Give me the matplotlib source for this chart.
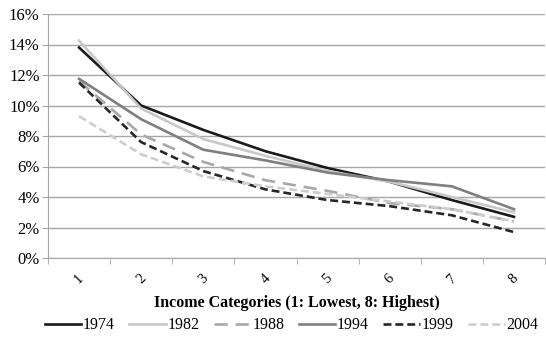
import matplotlib
matplotlib.use('Agg')
import matplotlib.pyplot as plt
from matplotlib.ticker import FuncFormatter, FixedLocator

plt.rcParams['font.family'] = ['Liberation Serif', 'DejaVu Serif']

categories = ['1', '2', '3', '4', '5', '6', '7', '8']
years = ['1974', '1982', '1988', '1994', '1999', '2004']
share_1974 = [13.8, 10.0, 8.4, 7.0, 5.9, 5.0, 3.8, 2.7]
share_1982 = [14.25, 9.8, 7.8, 6.7, 5.7, 5.0, 4.0, 3.0]
share_1988 = [11.6, 8.1, 6.3, 5.1, 4.4, 3.6, 3.2, 2.4]
share_1994 = [11.75, 9.1, 7.1, 6.4, 5.6, 5.1, 4.7, 3.2]
share_1999 = [11.5, 7.6, 5.7, 4.5, 3.8, 3.4, 2.8, 1.7]
share_2004 = [9.3, 6.8, 5.35, 4.7, 4.2, 3.7, 3.2, 2.4]

series = [share_1974, share_1982, share_1988, share_1994, share_1999, share_2004]
colors = ['#1a1a1a', '#c8c8c8', '#a8a8a8', '#7f7f7f', '#262626', '#cdcdcd']
styles = ['-', '-', (0, (5, 3)), '-', (0, (3, 1.5)), (0, (3, 1.5))]

fig = plt.figure(figsize=(5.46, 3.39), dpi=100)
ax = fig.add_axes([48 / 546, 81 / 339, 497 / 546, 244 / 339])

x = list(range(1, len(categories) + 1))
for year, vals, c, ls in zip(years, series, colors, styles):
    ax.plot(x, vals, color=c, linestyle=ls, linewidth=1.9, label=year)

ax.set_xlim(0.5, 8.5)
ax.set_ylim(0, 16)
ax.set_yticks(range(0, 17, 2))
ax.yaxis.set_major_formatter(FuncFormatter(lambda v, p: '%d%%' % v))
ax.grid(axis='y', color='#a6a6a6', linewidth=1.0)
ax.set_axisbelow(True)

ax.set_xticks(x)
ax.set_xticklabels(categories, rotation=45, fontsize=10.5)
ax.xaxis.set_minor_locator(FixedLocator([i + 0.5 for i in range(0, 9)]))
ax.tick_params(axis='x', which='major', length=0, pad=10)
ax.tick_params(axis='x', which='minor', length=4, color='#a6a6a6')
ax.tick_params(axis='y', length=4, color='#a6a6a6', labelsize=12, pad=2)

for s in ['top', 'right']:
    ax.spines[s].set_visible(False)
for s in ['left', 'bottom']:
    ax.spines[s].set_color('#a6a6a6')

ax.set_xlabel('Income Categories (1: Lowest, 8: Highest)', fontsize=11.5,
              fontweight='bold', labelpad=6)

ax.legend(loc='center', bbox_to_anchor=(0.49, -0.275), ncol=6, frameon=False,
          fontsize=11.5, handlelength=2.3, handletextpad=0.1, columnspacing=0.9,
          borderpad=0, borderaxespad=0)

fig.savefig('out.png', dpi=100)
